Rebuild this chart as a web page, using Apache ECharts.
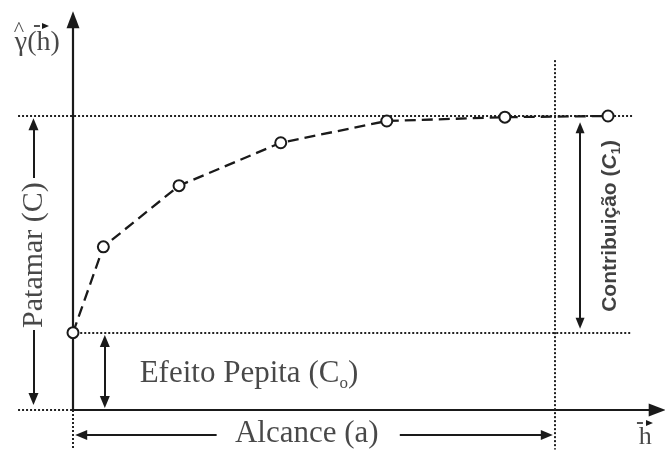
<!DOCTYPE html>
<html>
<head>
<meta charset="utf-8">
<script src="https://cdn.jsdelivr.net/npm/echarts@6/dist/echarts.min.js"></script>
<style>
html,body{margin:0;padding:0;background:#fff;}
#chart{width:665px;height:450px;}
</style>
</head>
<body>
<div id="chart"></div>
<script>
// ---- data ----
const lagH = [0, 0.63, 2.2, 4.31, 6.51, 8.96, 11.1];
const gammaH = [2.63, 5.55, 7.63, 9.09, 9.83, 9.96, 10.0];
const nugget = 2.63;   // C0
const sill = 10.0;     // C
const rangeA = 10.0;   // a

const txtPatamar = 'Patamar (C)';
const txtPepita = 'Efeito Pepita (C';
const txtPepitaSub = 'o';
const txtContrib = 'Contribuição (';
const txtAlcance = 'Alcance (a)';
const txtGamma = 'γ(h)';
const txtHat = '^';
const txtH = 'h';

const INK = '#1a1a1a';
const SERIF = '"Liberation Serif", "DejaVu Serif", serif';
const SANS = '"Liberation Sans", Arial, sans-serif';

const dotted = {color: '#222', width: 2, type: [2, 2]};
const solid = {color: INK, width: 2.2, type: 'solid'};
const thin = {color: INK, width: 2, type: 'solid'};

function seg(p1, p2, style, s1, s2, size) {
  return [
    {coord: p1, lineStyle: style, symbol: s1 || 'none', symbolSize: size || [10, 12]},
    {coord: p2, symbol: s2 || 'none', symbolSize: size || [10, 12]}
  ];
}

const chart = echarts.init(document.getElementById('chart'), null, {renderer: 'canvas'});

const option = {
  animation: false,
  backgroundColor: '#fff',
  grid: {left: 15.16, right: 3.96, top: 13.1, bottom: 0.31, containLabel: false},
  xAxis: {
    type: 'value', min: -1.2, max: 12.2,
    axisLine: {show: false}, axisTick: {show: false}, axisLabel: {show: false}, splitLine: {show: false}
  },
  yAxis: {
    type: 'value', min: -1.35, max: 13.5,
    axisLine: {show: false}, axisTick: {show: false}, axisLabel: {show: false}, splitLine: {show: false}
  },
  series: [
    {
      name: 'variograma',
      type: 'line',
      data: lagH.map((x, i) => [x, gammaH[i]]),
      smooth: false,
      symbol: 'circle',
      symbolSize: 11,
      lineStyle: {color: INK, width: 2.3, type: [11, 6]},
      itemStyle: {color: '#fff', borderColor: INK, borderWidth: 2},
      z: 5,
      silent: true,
      markLine: {
        silent: true,
        animation: false,
        symbol: ['none', 'none'],
        label: {show: false},
        emphasis: {disabled: true},
        data: [
          // axes
          seg([0, 0], [0, 13.27], solid, 'none', 'triangle', [13, 17]),
          seg([0, 0], [12.12, 0], solid, 'none', 'triangle', [13, 17]),
          // reference dotted lines
          seg([-1.14, sill], [11.6, sill], dotted),
          seg([0.15, nugget - 0.01], [11.56, nugget - 0.01], dotted),
          seg([rangeA, 11.9], [rangeA, -1.34], dotted),
          seg([-1.14, 0], [0, 0], dotted),
          seg([0, 0], [0, -1.34], dotted),
          // nugget arrow
          seg([0.66, nugget - 0.28], [0.66, 0.27], thin, 'triangle', 'triangle', [10, 12]),
          // contribution arrow
          seg([10.52, sill - 0.4], [10.52, nugget + 0.32], thin, 'triangle', 'triangle', [9, 11]),
          // sill arrow (split by text)
          seg([-0.82, 7.89], [-0.82, sill - 0.28], thin, 'none', 'triangle', [10, 12]),
          seg([-0.82, 2.72], [-0.82, 0.37], thin, 'none', 'triangle', [10, 12]),
          // range arrow (split by text)
          seg([2.98, -0.85], [0.17, -0.85], thin, 'none', 'triangle', [10, 12]),
          seg([6.78, -0.85], [rangeA - 0.17, -0.85], thin, 'none', 'triangle', [10, 12]),
          // vector arrows over h
          seg([11.70, -0.44], [11.96, -0.44], {color: INK, width: 1.5}, 'none', 'triangle', [6, 7]),
          seg([-0.81, 13.06], [-0.57, 13.06], {color: INK, width: 1.5}, 'none', 'triangle', [6, 7])
        ]
      }
    },
    {
      name: 'rotulos',
      type: 'scatter',
      symbolSize: 0,
      silent: true,
      z: 6,
      label: {show: true, position: 'inside', color: INK},
      data: [
        {value: [-0.8, 5.27], label: {formatter: txtPatamar, rotate: 90, fontFamily: SERIF, fontSize: 30, color: INK}},
        {value: [3.65, 1.24], label: {
          formatter: '{m|' + txtPepita + '}{s|' + txtPepitaSub + '}{m|)}',
          rich: {
            m: {fontFamily: SERIF, fontSize: 31, lineHeight: 36, color: INK},
            s: {fontFamily: SERIF, fontSize: 17, lineHeight: 17, verticalAlign: 'bottom', color: INK}
          }
        }},
        {value: [11.14, 6.26], label: {
          rotate: 90,
          formatter: '{b|' + txtContrib + '}{i|C}{s|1}{b|)}',
          rich: {
            b: {fontFamily: SANS, fontWeight: 'bold', fontSize: 21, lineHeight: 26, color: '#111'},
            i: {fontFamily: SANS, fontStyle: 'italic', fontWeight: 'bold', fontSize: 21, lineHeight: 26, color: '#111'},
            s: {fontFamily: SANS, fontWeight: 'bold', fontSize: 13, lineHeight: 13, verticalAlign: 'bottom', color: '#111'}
          }
        }},
        {value: [4.85, -0.81], label: {formatter: txtAlcance, fontFamily: SERIF, fontSize: 31, color: INK}},
        {value: [11.87, -0.92], label: {formatter: txtH, fontFamily: SERIF, fontSize: 26, color: INK}},
        {value: [-0.74, 12.5], label: {formatter: txtGamma, fontFamily: SERIF, fontSize: 28, color: INK}},
        {value: [-1.12, 12.93], label: {formatter: txtHat, fontFamily: SERIF, fontSize: 22, color: INK}}
      ]
    }
  ]
};

chart.setOption(option);
</script>
</body>
</html>
